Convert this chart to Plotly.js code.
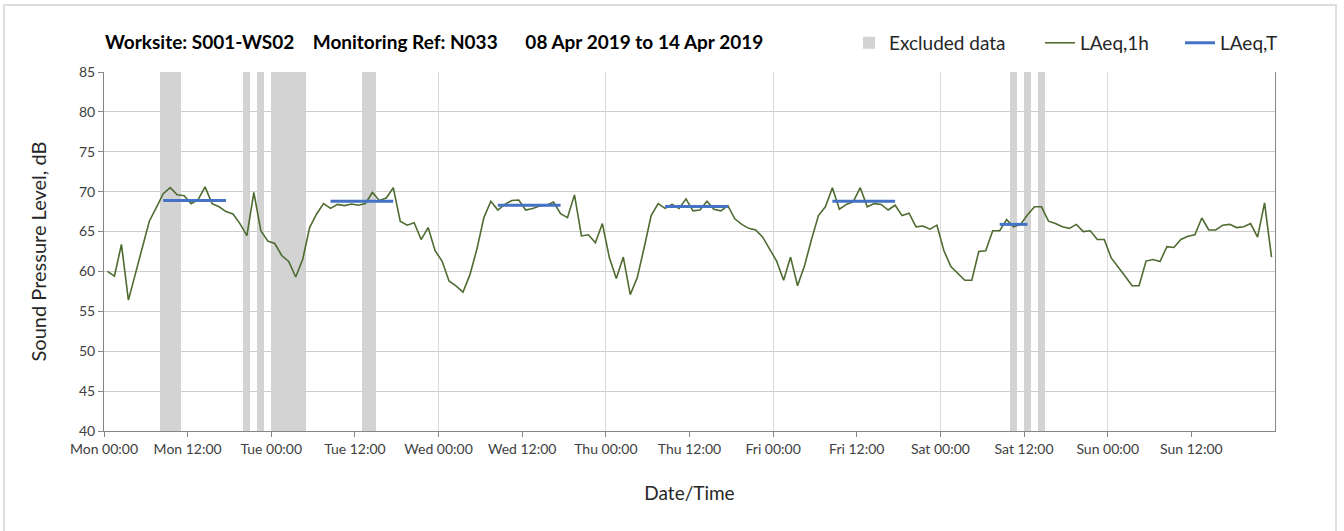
<!DOCTYPE html>
<html>
<head>
<meta charset="utf-8">
<script src="https://cdn.plot.ly/plotly-3.0.1.min.js"></script>
<style>
  html, body { margin: 0; padding: 0; background: #ffffff; }
  #wrap { position: relative; width: 1344px; height: 531px; }
  #chart { position: absolute; left: 0; top: 0; width: 1344px; height: 531px; }
  #frame { position: absolute; left: 3px; top: 4px; width: 1334px; height: 540px;
           border: 2px solid #dedede; pointer-events: none; box-sizing: border-box; }
</style>
</head>
<body>
<div id="wrap">
  <div id="chart"></div>
  <div id="frame"></div>
</div>
<script>
// ---------------- data ----------------
const startDate = Date.UTC(2019, 3, 8); // Mon 08 Apr 2019 00:00

// hourly LAeq,1h values (hour 0 = Mon 00:00-01:00)
const laeq1h = [
  60.0, 59.4, 63.4, 56.4, 59.7, 63.0, 66.3, 68.0, 69.75, 70.5, 69.6, 69.5,
  68.5, 69.0, 70.6, 68.5, 68.1, 67.5, 67.2, 66.0, 64.5, 69.9, 65.1, 63.8,
  63.5, 62.0, 61.25, 59.3, 61.5, 65.5, 67.2, 68.5, 67.9, 68.4, 68.25, 68.45,
  68.3, 68.5, 69.9, 68.9, 69.2, 70.5, 66.3, 65.8, 66.1, 64.0, 65.5, 62.6,
  61.3, 58.8, 58.2, 57.4, 59.6, 62.8, 66.75, 68.8, 67.7, 68.4, 68.9, 68.96,
  67.7, 67.9, 68.2, 68.3, 68.7, 67.25, 66.75, 69.6, 64.45, 64.6, 63.6, 66.0,
  61.75, 59.1, 61.8, 57.1, 59.2, 63.0, 67.0, 68.5, 67.9, 68.4, 67.9, 69.1,
  67.6, 67.7, 68.8, 67.8, 67.6, 68.25, 66.6, 65.9, 65.4, 65.2, 64.3, 62.8,
  61.3, 58.9, 61.8, 58.2, 60.7, 64.0, 67.0, 68.1, 70.5, 67.8, 68.4, 68.75,
  70.5, 68.1, 68.5, 68.4, 67.7, 68.3, 67.0, 67.3, 65.6, 65.7, 65.3, 65.8,
  62.6, 60.6, 59.75, 58.9, 58.9, 62.5, 62.6, 65.1, 65.1, 66.5, 65.6, 65.9,
  67.1, 68.1, 68.1, 66.3, 66.0, 65.6, 65.4, 65.9, 65.0, 65.1, 64.0, 64.0,
  61.7, 60.6, 59.4, 58.2, 58.2, 61.3, 61.5, 61.25, 63.1, 63.0, 64.0, 64.4,
  64.6, 66.7, 65.2, 65.2, 65.8, 65.9, 65.5, 65.6, 66.0, 64.3, 68.6, 61.8
];

// LAeq,T daytime periods (first and last hour index) and levels
const laeqTStartHour = [8, 32, 56, 80, 104, 128];
const laeqTEndHour   = [17, 41, 65, 89, 113, 132];
const laeqTValue     = [68.9, 68.8, 68.3, 68.15, 68.8, 65.9];

// excluded hours (hour index from Mon 00:00)
const excludedHours = [8, 9, 10, 20, 22, 24, 25, 26, 27, 28, 37, 38, 130, 132, 134];

// axis limits
const yMin = 40, yMax = 85;
const totalHours = 168;

// ---------------- helpers ----------------
function hourToDate(h) {
  const d = new Date(startDate + h * 3600000);
  return d.toISOString().slice(0, 19).replace('T', ' ');
}

const xStart = hourToDate(0);
const xEnd = hourToDate(totalHours);

// labelled ticks every 12 h (the closing Mon 00:00 is not labelled)
const xTickVals = [];
for (let h = 0; h < totalHours; h += 12) xTickVals.push(hourToDate(h));

const lineX = laeq1h.map((v, i) => hourToDate(i + 0.5));

const tX = [], tY = [];
laeqTStartHour.forEach((s, k) => {
  for (let h = s; h <= laeqTEndHour[k]; h++) {
    tX.push(hourToDate(h + 0.5));
    tY.push(laeqTValue[k]);
  }
  tX.push(hourToDate(laeqTEndHour[k] + 1));
  tY.push(null);
});

const FONT = 'Lato, "Open Sans", sans-serif';
const LEGEND_FONT = { family: FONT, size: 19, color: '#262626' };

const traces = [
  {
    type: 'bar',
    name: 'Excluded data',
    legend: 'legend',
    x: excludedHours.map(h => hourToDate(h + 0.5)),
    y: excludedHours.map(() => yMax - yMin),
    base: yMin,
    width: 3600000,
    marker: { color: '#d3d3d3', line: { width: 0 } },
    hoverinfo: 'skip'
  },
  {
    type: 'scatter',
    mode: 'lines',
    name: 'LAeq,1h',
    legend: 'legend2',
    x: lineX,
    y: laeq1h,
    line: { color: '#4e6b30', width: 1.6 }
  },
  {
    type: 'scatter',
    mode: 'lines',
    name: 'LAeq,T',
    legend: 'legend3',
    x: tX,
    y: tY,
    connectgaps: false,
    line: { color: '#4472c4', width: 3 }
  },
  {
    type: 'scatter',
    mode: 'lines',
    x: [null], y: [null],
    xaxis: 'x2', yaxis: 'y2',
    showlegend: false,
    hoverinfo: 'skip'
  }
];

function legendAt(px) {
  return {
    orientation: 'h',
    x: (px - 104) / 1171, xanchor: 'left',
    y: 1.081, yanchor: 'middle',
    font: LEGEND_FONT,
    bgcolor: 'rgba(0,0,0,0)'
  };
}

const layout = {
  width: 1344,
  height: 531,
  margin: { l: 104, r: 69, t: 72, b: 100 },
  paper_bgcolor: '#ffffff',
  plot_bgcolor: '#ffffff',
  font: { family: FONT, color: '#404040' },
  bargap: 0,
  showlegend: true,
  title: {
    text: 'Worksite: S001-WS02\u00A0\u00A0\u00A0\u00A0Monitoring Ref: N033\u00A0\u00A0\u00A0\u00A0\u00A0\u00A008 Apr 2019 to 14 Apr 2019',
    font: { family: FONT, size: 19, color: '#000000', weight: 'bold' },
    xref: 'container', x: 105 / 1344, xanchor: 'left',
    yref: 'container', y: 1 - 42 / 531, yanchor: 'middle'
  },
  legend: legendAt(849),
  legend2: legendAt(1040),
  legend3: legendAt(1180),
  xaxis: {
    type: 'date',
    range: [xStart, xEnd],
    tickmode: 'array',
    tickvals: xTickVals,
    tickformat: '%a %H:%M',
    ticks: 'outside',
    ticklen: 5,
    tickcolor: '#868686',
    showline: true,
    linecolor: '#868686',
    linewidth: 1,
    showgrid: false,
    zeroline: false,
    tickfont: { family: FONT, size: 14, color: '#404040' },
    title: { text: 'Date/Time', font: { family: FONT, size: 19, color: '#262626' }, standoff: 30 }
  },
  xaxis2: {
    type: 'date',
    overlaying: 'x',
    anchor: 'y2',
    range: [xStart, xEnd],
    tick0: xStart,
    dtick: 86400000,
    showgrid: true,
    gridcolor: '#dadada',
    gridwidth: 1,
    showticklabels: false,
    ticks: '',
    showline: false,
    zeroline: false
  },
  yaxis: {
    range: [yMin, yMax],
    tick0: yMin,
    dtick: 5,
    ticks: 'outside',
    ticklen: 5,
    tickcolor: '#868686',
    showline: true,
    linecolor: '#868686',
    linewidth: 1,
    showgrid: true,
    gridcolor: '#cccccc',
    gridwidth: 1,
    zeroline: false,
    tickfont: { family: FONT, size: 14, color: '#404040' },
    title: { text: 'Sound Pressure Level, dB', font: { family: FONT, size: 20, color: '#262626' }, standoff: 26 }
  },
  yaxis2: {
    overlaying: 'y',
    anchor: 'x2',
    side: 'right',
    range: [yMin, yMax],
    showline: true,
    linecolor: '#868686',
    linewidth: 1,
    showgrid: false,
    showticklabels: false,
    ticks: '',
    zeroline: false
  }
};

Plotly.newPlot('chart', traces, layout, { displayModeBar: false, staticPlot: true });
</script>
</body>
</html>
